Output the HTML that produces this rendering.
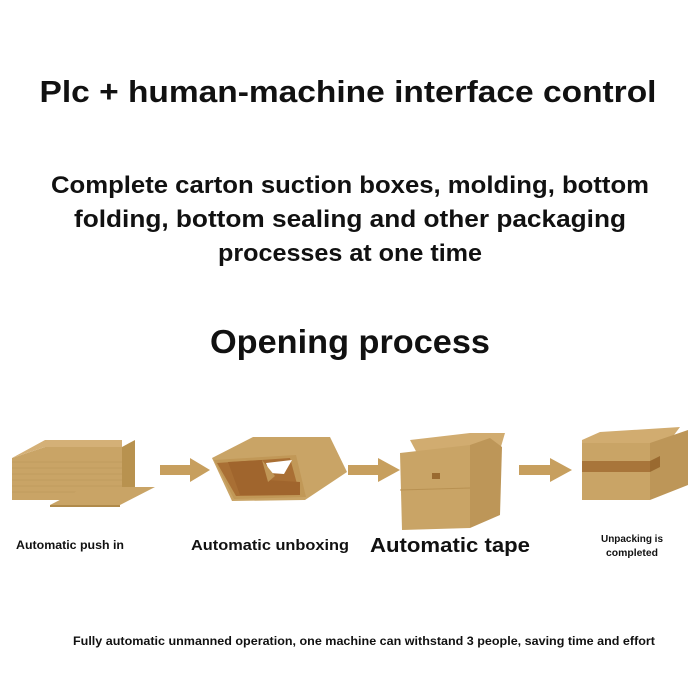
<!DOCTYPE html>
<html><head><style>html,body{margin:0;padding:0;background:#fff;width:700px;height:700px;overflow:hidden}</style></head>
<body>
<svg width="700" height="700" viewBox="0 0 700 700" xmlns="http://www.w3.org/2000/svg" font-family="Liberation Sans, sans-serif" font-weight="bold" fill="#111">
<text x="348" y="102" font-size="31" text-anchor="middle" textLength="617" lengthAdjust="spacingAndGlyphs">Plc + human-machine interface control</text>
<text x="350" y="193" font-size="24" text-anchor="middle" textLength="598" lengthAdjust="spacingAndGlyphs">Complete carton suction boxes, molding, bottom</text>
<text x="350" y="227" font-size="24" text-anchor="middle" textLength="552" lengthAdjust="spacingAndGlyphs">folding, bottom sealing and other packaging</text>
<text x="350" y="261" font-size="24" text-anchor="middle" textLength="264" lengthAdjust="spacingAndGlyphs">processes at one time</text>
<text x="350" y="353" font-size="33" text-anchor="middle" textLength="280" lengthAdjust="spacingAndGlyphs">Opening process</text>

<!-- Box 1: stack -->
<polygon points="12,458 45,447 122,447 122,500 12,500" fill="#c9a466"/>
<polygon points="122,447 122,500 135,495 135,440" fill="#b8924f"/>
<polygon points="12,458 45,447 122,447 122,440 45,440" fill="#d4b077"/>
<g stroke="#b89456" stroke-width="0.5">
<line x1="12" y1="462" x2="122" y2="462"/><line x1="12" y1="468" x2="122" y2="468"/><line x1="12" y1="474" x2="122" y2="474"/><line x1="12" y1="480" x2="122" y2="480"/><line x1="12" y1="486" x2="122" y2="486"/><line x1="12" y1="492" x2="122" y2="492"/></g>
<polygon points="50,505 120,505 155,487 85,487" fill="#c9a466"/>
<polygon points="50,505 120,505 120,507 50,507" fill="#b08a4a"/>

<!-- Arrow 1 -->
<polygon points="160,465 190,465 190,458 210,470 190,482 190,475 160,475" fill="#c79f5e"/>

<!-- Box 2 -->
<polygon points="212,458 253,437 330,437 347,472 305,500 232,501" fill="#c9a466"/>
<polygon points="214,460 296,455 306,497 234,499" fill="#c19857"/>
<polygon points="217,463 290,458 300,495 236,496" fill="#a96f34"/>
<polygon points="228,462 262,460 268,480 300,482 300,495 240,495" fill="#a0652d"/>
<polygon points="266,463 292,460 284,474 270,473" fill="#fff"/>
<polygon points="262,460 275,476 268,482" fill="#c09656"/>

<!-- Arrow 2 -->
<polygon points="348,465 378,465 378,458 400,470 378,482 378,475 348,475" fill="#c79f5e"/>

<!-- Box 3 -->
<polygon points="410,440 470,433 505,433 500,450 485,455 418,455" fill="#d1ac70"/>
<polygon points="400,453 470,445 470,528 402,530" fill="#c9a466"/>
<polygon points="470,445 490,438 502,447 500,515 470,528" fill="#bd9658"/>
<rect x="432" y="473" width="8" height="6" fill="#9a6a30"/>
<line x1="400" y1="490" x2="470" y2="488" stroke="#b89152" stroke-width="1"/>

<!-- Arrow 3 -->
<polygon points="519,465 550,465 550,458 572,470 550,482 550,475 519,475" fill="#c79f5e"/>

<!-- Box 4 -->
<polygon points="582,440 600,432 680,427 668,443 582,443" fill="#d1ac70"/>
<polygon points="582,443 650,443 650,500 582,500" fill="#c9a466"/>
<polygon points="650,443 688,430 688,485 650,500" fill="#bd9658"/>
<rect x="582" y="461" width="68" height="11" fill="#a8753a"/>
<polygon points="650,461 660,456 660,467 650,472" fill="#9a6a30"/>

<text x="70" y="549" font-size="11.5" text-anchor="middle" textLength="108" lengthAdjust="spacingAndGlyphs">Automatic push in</text>
<text x="270" y="550" font-size="14.5" text-anchor="middle" textLength="158" lengthAdjust="spacingAndGlyphs">Automatic unboxing</text>
<text x="450" y="552" font-size="20" text-anchor="middle" textLength="160" lengthAdjust="spacingAndGlyphs">Automatic tape</text>
<text x="632" y="542" font-size="10" text-anchor="middle" textLength="62" lengthAdjust="spacingAndGlyphs">Unpacking is</text>
<text x="632" y="556" font-size="10" text-anchor="middle" textLength="52" lengthAdjust="spacingAndGlyphs">completed</text>

<text x="364" y="645" font-size="12" text-anchor="middle" textLength="582" lengthAdjust="spacingAndGlyphs">Fully automatic unmanned operation, one machine can withstand 3 people, saving time and effort</text>
</svg>
</body></html>
